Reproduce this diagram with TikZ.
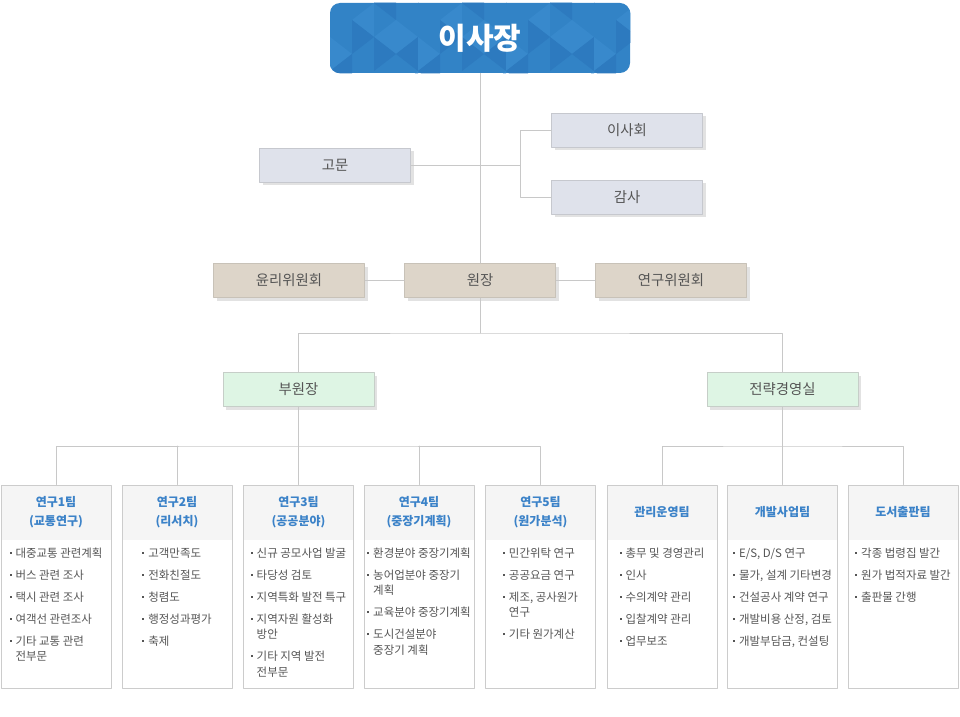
\documentclass[tikz,border=0pt]{standalone}
\usepackage{fontspec}
\setmainfont{Noto Sans CJK KR}
\usetikzlibrary{shadows}
\definecolor{linegray}{HTML}{C8C8C8}
\definecolor{txtgray}{HTML}{555555}
\definecolor{bossblue}{HTML}{3283C6}
\definecolor{bossdark}{HTML}{2D7ABF}
\definecolor{bosslight}{HTML}{3889CC}
\definecolor{advfill}{HTML}{DFE2EB}
\definecolor{advline}{HTML}{C6C8CE}
\definecolor{comfill}{HTML}{DDD5C9}
\definecolor{comline}{HTML}{C8C2B8}
\definecolor{vicefill}{HTML}{DEF5E4}
\definecolor{viceline}{HTML}{C6CEC8}
\definecolor{shadowgray}{HTML}{E2E2E2}
\definecolor{teamline}{HTML}{CCCCCC}
\definecolor{teamhead}{HTML}{F5F5F5}
\definecolor{teamblue}{HTML}{3B82C8}
\newcommand\itm{\rule[0.32em]{1.5pt}{1.5pt}\hspace{3pt}}
\newcommand\ind{\hspace*{4.5pt}}
\newcommand\nx{\\[4.9pt]}
\newcommand\orgteam[4]{%
  \node[teambox] (#1) at (#2,586.5) {};
  \node[teamtitle] at (#2,512.5) {#3};
  \node[teamitems] at (#2,547.5) {#4};
}

\begin{document}
\begin{tikzpicture}[line cap=round,line join=round,x=0.75pt,y=-0.75pt,
  conn/.style={draw=linegray,line width=0.75pt},
  midbox/.style={minimum width=113.25pt,minimum height=25.5pt,inner sep=0pt,line width=0.75pt,
    text=txtgray,font=\fontsize{10.8pt}{12pt}\selectfont,
    drop shadow={shadow xshift=2.25pt,shadow yshift=-2.25pt,fill=shadowgray,opacity=1}},
  advbox/.style={midbox,fill=advfill,draw=advline},
  combox/.style={midbox,fill=comfill,draw=comline},
  vicebox/.style={midbox,fill=vicefill,draw=viceline},
  teambox/.style={draw=teamline,fill=white,line width=0.75pt,minimum width=82.5pt,minimum height=152.25pt,inner sep=0pt,
    path picture={\fill[teamhead] (path picture bounding box.north west) rectangle ([yshift=-41.25pt]path picture bounding box.north east);}},
  teamtitle/.style={align=center,text=teamblue,font=\fontsize{9pt}{14.25pt}\selectfont\bfseries,inner sep=0pt},
  teamitems/.style={anchor=north,align=left,text=txtgray,font=\fontsize{8.6pt}{11.6pt}\selectfont,inner sep=0pt}]
\useasboundingbox (0,0) rectangle (960,717);

\node[fill=bossblue,rounded corners=7.5pt,minimum width=225pt,minimum height=52.5pt,inner sep=0pt] (boss) at (480,38) {};
\begin{scope}
\clip[rounded corners=7.5pt] (boss.south west) rectangle (boss.north east);
\foreach \i in {0,...,14}{
  \foreach \j in {-1,...,2}{
    \pgfmathsetmacro\xa{330+22*\i}
    \pgfmathsetmacro\ya{3+34*\j+17*mod(\i,2)}
    \pgfmathtruncatemacro\k{mod(\i*5+\j*3+7,4)}
    \ifnum\k=0 \fill[bossdark] (\xa,\ya) -- (\xa,\ya+34) -- (\xa+22,\ya+17) -- cycle; \fi
    \ifnum\k=1 \fill[bosslight] (\xa+22,\ya+17) -- (\xa+22,\ya+51) -- (\xa,\ya+34) -- cycle; \fi
    \ifnum\k=2 \fill[bosslight] (\xa,\ya) -- (\xa,\ya+34) -- (\xa+22,\ya+17) -- cycle;
      \fill[bossdark] (\xa+22,\ya+17) -- (\xa+22,\ya+51) -- (\xa,\ya+34) -- cycle; \fi
  }
}
\end{scope}
\node[text=white,font=\fontsize{22.5pt}{24pt}\selectfont\bfseries] at (boss) {이사장};

\node[advbox] (gomun) at (335,165) {고문};
\node[advbox] (isahoe) at (627,130) {이사회};
\node[advbox] (gamsa) at (627,197) {감사};
\node[combox] (yunli) at (289,280.5) {윤리위원회};
\node[combox] (wonjang) at (480,280.5) {원장};
\node[combox] (yeongu) at (671,280.5) {연구위원회};
\node[vicebox] (buwon) at (298.5,389.5) {부원장};
\node[vicebox] (jeonryak) at (782.5,389.5) {전략경영실};

\orgteam{t1}{56}{연구1팀\\(교통연구)}{\itm 대중교통 관련계획\nx\itm 버스 관련 조사\nx\itm 택시 관련 조사\nx\itm 여객선 관련조사\nx\itm 기타 교통 관련\\\ind 전부문}
\orgteam{t2}{177}{연구2팀\\(리서치)}{\itm 고객만족도\nx\itm 전화친절도\nx\itm 청렴도\nx\itm 행정성과평가\nx\itm 축제}
\orgteam{t3}{298.5}{연구3팀\\(공공분야)}{\itm 신규 공모사업 발굴\nx\itm 타당성 검토\nx\itm 지역특화 발전 특구\nx\itm 지역자원 활성화\\\ind 방안\nx\itm 기타 지역 발전\\\ind 전부문}
\orgteam{t4}{419}{연구4팀\\(중장기계획)}{\itm 환경분야 중장기계획\nx\itm 농어업분야 중장기\\\ind 계획\nx\itm 교육분야 중장기계획\nx\itm 도시건설분야\\\ind 중장기 계획}
\orgteam{t5}{540.5}{연구5팀\\(원가분석)}{\itm 민간위탁 연구\nx\itm 공공요금 연구\nx\itm 제조, 공사원가\\\ind 연구\nx\itm 기타 원가계산}
\orgteam{t6}{662}{관리운영팀}{\itm 총무 및 경영관리\nx\itm 인사\nx\itm 수의계약 관리\nx\itm 입찰계약 관리\nx\itm 업무보조}
\orgteam{t7}{782.5}{개발사업팀}{\itm E/S, D/S 연구\nx\itm 물가, 설계 기타변경\nx\itm 건설공사 계약 연구\nx\itm 개발비용 산정, 검토\nx\itm 개발부담금, 컨설팅}
\orgteam{t8}{903}{도서출판팀}{\itm 각종 법령집 발간\nx\itm 원가 법적자료 발간\nx\itm 출판물 간행}

\coordinate (jn) at (520,165);
\coordinate (b1) at (480,333);
\coordinate (b2) at (298.5,446);
\coordinate (b3) at (782.5,446);
\draw[conn] (boss.south) -- (wonjang.north);
\draw[conn] (gomun.east) -- (jn);
\draw[conn] (isahoe.west) -| (jn);
\draw[conn] (gamsa.west) -| (jn);
\draw[conn] (yunli.east) -- (wonjang.west);
\draw[conn] (wonjang.east) -- (yeongu.west);
\draw[conn] (wonjang.south) -- (b1);
\draw[conn] (buwon.north) |- (b1) -| (jeonryak.north);
\draw[conn] (buwon.south) -- (t3.north);
\draw[conn] (t1.north) |- (b2) -| (t5.north);
\draw[conn] (t2.north) -- (t2.north |- b2);
\draw[conn] (t4.north) -- (t4.north |- b2);
\draw[conn] (jeonryak.south) -- (t7.north);
\draw[conn] (t6.north) |- (b3) -| (t8.north);
\end{tikzpicture}
\end{document}
